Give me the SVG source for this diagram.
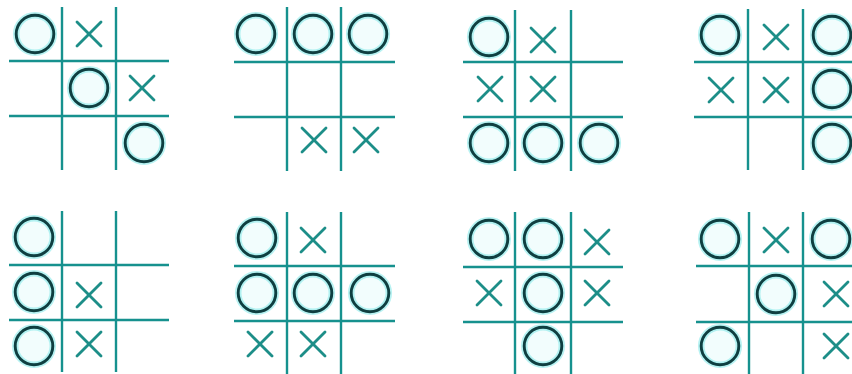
<svg xmlns="http://www.w3.org/2000/svg" xmlns:xlink="http://www.w3.org/1999/xlink" width="852" height="374" viewBox="0 0 852 374">
  <style>
    .grid line { stroke: #16918e; stroke-width: 2.4; }
    .xl { stroke: #1d8e88; stroke-width: 2.8; stroke-linecap: round; }
    .og { fill: #f2fdfd; stroke: #6fe6e5; stroke-width: 6.5; stroke-opacity: 0.5; }
    .od { fill: none; stroke: #0f3f41; stroke-width: 2.9; }
  </style>
  <defs>
    <g id="o">
      <circle class="og" r="18.8"/>
      <circle class="od" r="18.8"/>
    </g>
    <g id="x">
      <line class="xl" x1="-12" y1="-12" x2="12" y2="12"/>
      <line class="xl" x1="-12" y1="12" x2="12" y2="-12"/>
    </g>
  </defs>
  <rect width="852" height="374" fill="#ffffff"/>

  <g id="board1">
    <g class="grid">
      <line x1="62" y1="7" x2="62" y2="170"/><line x1="116" y1="7" x2="116" y2="170"/>
      <line x1="9" y1="61" x2="169" y2="61"/><line x1="9" y1="116" x2="169" y2="116"/>
    </g>
    <use href="#o" x="35" y="34"/><use href="#x" x="89" y="34"/>
    <use href="#o" x="89" y="88"/><use href="#x" x="142" y="88"/>
    <use href="#o" x="144" y="143"/>
  </g>

  <g id="board2">
    <g class="grid">
      <line x1="287" y1="7" x2="287" y2="171"/><line x1="341" y1="7" x2="341" y2="171"/>
      <line x1="234" y1="62" x2="395" y2="62"/><line x1="234" y1="117" x2="395" y2="117"/>
    </g>
    <use href="#o" x="256" y="34"/><use href="#o" x="313" y="34"/><use href="#o" x="368" y="34"/>
    <use href="#x" x="314" y="140"/><use href="#x" x="366" y="140"/>
  </g>

  <g id="board3">
    <g class="grid">
      <line x1="515" y1="10" x2="515" y2="171"/><line x1="571" y1="10" x2="571" y2="171"/>
      <line x1="463" y1="62" x2="623" y2="62"/><line x1="463" y1="117" x2="623" y2="117"/>
    </g>
    <use href="#o" x="489" y="37"/><use href="#x" x="543" y="40"/>
    <use href="#x" x="490" y="89"/><use href="#x" x="543" y="89"/>
    <use href="#o" x="489" y="143"/><use href="#o" x="543" y="143"/><use href="#o" x="599" y="143"/>
  </g>

  <g id="board4">
    <g class="grid">
      <line x1="748" y1="9" x2="748" y2="170"/><line x1="803" y1="9" x2="803" y2="170"/>
      <line x1="694" y1="62" x2="852" y2="62"/><line x1="694" y1="117" x2="852" y2="117"/>
    </g>
    <use href="#o" x="720" y="35"/><use href="#x" x="776" y="37"/><use href="#o" x="832" y="35"/>
    <use href="#x" x="721" y="90"/><use href="#x" x="776" y="90"/><use href="#o" x="832" y="89"/>
    <use href="#o" x="832" y="143"/>
  </g>

  <g id="board5">
    <g class="grid">
      <line x1="62" y1="211" x2="62" y2="372"/><line x1="116" y1="211" x2="116" y2="372"/>
      <line x1="9" y1="265" x2="169" y2="265"/><line x1="9" y1="320" x2="169" y2="320"/>
    </g>
    <use href="#o" x="34" y="237"/>
    <use href="#o" x="34" y="292"/><use href="#x" x="89" y="295"/>
    <use href="#o" x="34" y="346"/><use href="#x" x="89" y="344"/>
  </g>

  <g id="board6">
    <g class="grid">
      <line x1="287" y1="212" x2="287" y2="374"/><line x1="341" y1="212" x2="341" y2="374"/>
      <line x1="234" y1="266" x2="395" y2="266"/><line x1="234" y1="321" x2="395" y2="321"/>
    </g>
    <use href="#o" x="257" y="238"/><use href="#x" x="313" y="240"/>
    <use href="#o" x="257" y="293"/><use href="#o" x="313" y="293"/><use href="#o" x="370" y="293"/>
    <use href="#x" x="260" y="344"/><use href="#x" x="313" y="344"/>
  </g>

  <g id="board7">
    <g class="grid">
      <line x1="515" y1="212" x2="515" y2="374"/><line x1="571" y1="212" x2="571" y2="374"/>
      <line x1="463" y1="267" x2="623" y2="267"/><line x1="463" y1="322" x2="623" y2="322"/>
    </g>
    <use href="#o" x="489" y="239"/><use href="#o" x="543" y="239"/><use href="#x" x="597" y="242"/>
    <use href="#x" x="489" y="293"/><use href="#o" x="543" y="293"/><use href="#x" x="597" y="293"/>
    <use href="#o" x="543" y="346"/>
  </g>

  <g id="board8">
    <g class="grid">
      <line x1="749" y1="212" x2="749" y2="374"/><line x1="803" y1="212" x2="803" y2="374"/>
      <line x1="696" y1="266" x2="852" y2="266"/><line x1="696" y1="322" x2="852" y2="322"/>
    </g>
    <use href="#o" x="720" y="239"/><use href="#x" x="776" y="240"/><use href="#o" x="831" y="239"/>
    <use href="#o" x="776" y="294"/><use href="#x" x="836" y="294"/>
    <use href="#o" x="720" y="346"/><use href="#x" x="836" y="346"/>
  </g>

  <g id="connectors"/>
</svg>
